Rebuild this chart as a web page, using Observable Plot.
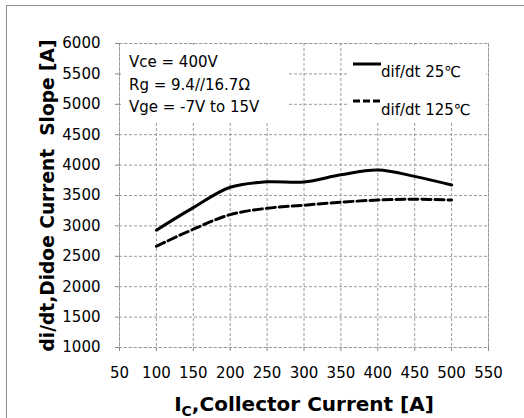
<!DOCTYPE html>
<html>
<head>
<meta charset="utf-8">
<script src="https://cdn.jsdelivr.net/npm/d3@7"></script>
<script src="https://cdn.jsdelivr.net/npm/@observablehq/plot@0.6"></script>
<style>
  html, body { margin: 0; padding: 0; background: #fff; overflow: hidden; }
  #wrap { position: relative; width: 524px; height: 418px; }
  #edge { position: absolute; left: 6px; top: 5px; right: -4px; bottom: -4px;
          border-left: 1.5px solid #8c8c8c; border-top: 1.5px solid #8c8c8c; pointer-events: none; }
</style>
</head>
<body>
<div id="wrap"><div id="edge"></div></div>
<script>
// Collector current [A] and diode current slope di/dt [A] at two temperatures
const current = [100, 150, 200, 250, 300, 350, 400, 450, 500];
const slope25 = [2930, 3300, 3635, 3725, 3722, 3840, 3920, 3815, 3672];
const slope125 = [2665, 2945, 3185, 3290, 3340, 3390, 3425, 3438, 3425];

const xTicks = [50, 100, 150, 200, 250, 300, 350, 400, 450, 500, 550];
const yTicks = [1000, 1500, 2000, 2500, 3000, 3500, 4000, 4500, 5000, 5500, 6000];

const seriesNames = ["dif/dt 25℃", "dif/dt 125℃"];
const conditions = ["Vce = 400V", "Rg = 9.4//16.7Ω", "Vge = -7V to 15V"];
const xLabelMain = "I";
const xLabelSub = "C";
const xLabelRest = ",Collector Current [A]";
const yLabel = "di/dt,Didoe Current  Slope [A]";

const rows25 = current.map((c, i) => ({c, v: slope25[i]}));
const rows125 = current.map((c, i) => ({c, v: slope125[i]}));

const gridStyle = {stroke: "#9a9a9a", strokeOpacity: 1, strokeDasharray: "3,2", strokeWidth: 1};
const plain = d3.format("d");

const chart = Plot.plot({
  width: 524,
  height: 418,
  marginLeft: 119,
  marginRight: 36,
  marginTop: 43,
  marginBottom: 71,
  style: {fontFamily: "DejaVu Sans", fontSize: "15px", color: "#000", background: "transparent"},
  x: {domain: [50, 550]},
  y: {domain: [1000, 6000]},
  marks: [
    Plot.gridX(xTicks, gridStyle),
    Plot.gridY(yTicks, gridStyle),
    Plot.frame(gridStyle),
    Plot.axisX(xTicks, {tickSize: 4, tickPadding: 16, stroke: "#8a8a8a", fill: "#000", label: null, fontSize: 15, tickFormat: plain}),
    Plot.axisY(yTicks, {tickSize: 4, tickPadding: 15, stroke: "#8a8a8a", fill: "#000", label: null, fontSize: 15, tickFormat: plain}),
    Plot.line(rows25, {x: "c", y: "v", curve: "catmull-rom", stroke: "#000", strokeWidth: 3}),
    Plot.line(rows125, {x: "c", y: "v", curve: "catmull-rom", stroke: "#000", strokeWidth: 3, strokeDasharray: "9,4"}),
    Plot.text([yLabel], {frameAnchor: "left", text: d => d, rotate: -90, dx: -66, lineAnchor: "bottom",
      textAnchor: "middle", fontWeight: "bold", fontSize: 20, fill: "#000", className: "ylab"}),
    Plot.text([xLabelMain], {frameAnchor: "bottom", text: d => d, dy: 63, lineAnchor: "bottom",
      textAnchor: "middle", fontWeight: "bold", fontSize: 20, fill: "#000", className: "xlab"})
  ]
});

document.getElementById("wrap").appendChild(chart);
const svg = d3.select(chart);

// Keep the double space in the y label and fit it to the axis height
svg.selectAll(".ylab text").style("white-space", "pre").attr("textLength", 312).attr("lengthAdjust", "spacingAndGlyphs");

// X label with subscript
const xt = svg.select(".xlab text");
xt.text(null);
xt.append("tspan").text(xLabelMain);
xt.append("tspan").attr("font-size", 14).attr("dy", 5).text(xLabelSub);
xt.append("tspan").attr("dy", -5).text(xLabelRest);

// Conditions box and legend box, masking the grid behind them
const boxTop = 45;
svg.append("rect").attr("x", 121).attr("y", boxTop).attr("width", 166).attr("height", 77).attr("fill", "#fff");
svg.append("rect").attr("x", 347).attr("y", boxTop).attr("width", 139).attr("height", 77).attr("fill", "#fff");

const note = svg.append("g").attr("font-family", "DejaVu Sans").attr("font-size", 15)
  .attr("fill", "#000").attr("text-anchor", "start");
conditions.forEach((t, i) => {
  note.append("text").attr("x", 129).attr("y", 67 + i * 22.5).text(t);
});

const legend = svg.append("g").attr("font-family", "DejaVu Sans").attr("font-size", 15)
  .attr("fill", "#000").attr("text-anchor", "start");
const dashes = [null, "7,3"];
seriesNames.forEach((t, i) => {
  const ly = 64 + i * 37;
  legend.append("line").attr("x1", 353).attr("x2", 381).attr("y1", ly).attr("y2", ly)
    .attr("stroke", "#000").attr("stroke-width", 3).attr("stroke-dasharray", dashes[i]);
  legend.append("text").attr("x", 381).attr("y", 77 + i * 38).text(t);
});
</script>
</body>
</html>
